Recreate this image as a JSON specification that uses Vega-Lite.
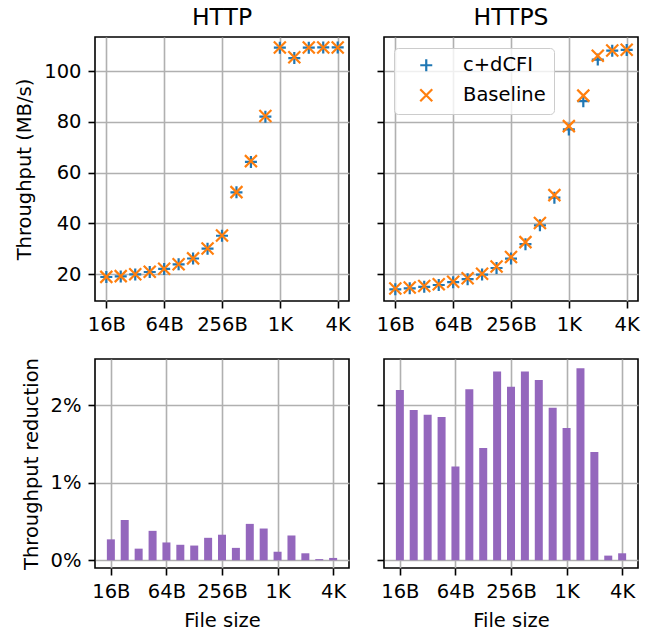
{
  "$schema": "https://vega.github.io/schema/vega-lite/v6.json",
  "padding": {"left": 13, "top": 4, "right": 5, "bottom": 5},
  "background": "white",
  "datasets": {
    "thr": [
      {"proto": "HTTP", "size": 16, "series": "c+dCFI", "v": 18.85},
      {"proto": "HTTP", "size": 22.6, "series": "c+dCFI", "v": 19.1},
      {"proto": "HTTP", "size": 32, "series": "c+dCFI", "v": 19.87},
      {"proto": "HTTP", "size": 45.3, "series": "c+dCFI", "v": 20.82},
      {"proto": "HTTP", "size": 64, "series": "c+dCFI", "v": 22.05},
      {"proto": "HTTP", "size": 90.5, "series": "c+dCFI", "v": 23.85},
      {"proto": "HTTP", "size": 128, "series": "c+dCFI", "v": 26.15},
      {"proto": "HTTP", "size": 181, "series": "c+dCFI", "v": 30.0},
      {"proto": "HTTP", "size": 256, "series": "c+dCFI", "v": 35.1},
      {"proto": "HTTP", "size": 362, "series": "c+dCFI", "v": 52.2},
      {"proto": "HTTP", "size": 512, "series": "c+dCFI", "v": 64.2},
      {"proto": "HTTP", "size": 724, "series": "c+dCFI", "v": 82.0},
      {"proto": "HTTP", "size": 1024, "series": "c+dCFI", "v": 109.2},
      {"proto": "HTTP", "size": 1448, "series": "c+dCFI", "v": 105.1},
      {"proto": "HTTP", "size": 2048, "series": "c+dCFI", "v": 109.2},
      {"proto": "HTTP", "size": 2896, "series": "c+dCFI", "v": 109.3},
      {"proto": "HTTP", "size": 4096, "series": "c+dCFI", "v": 109.3},
      {"proto": "HTTP", "size": 16, "series": "Baseline", "v": 18.9},
      {"proto": "HTTP", "size": 22.6, "series": "Baseline", "v": 19.2},
      {"proto": "HTTP", "size": 32, "series": "Baseline", "v": 19.9},
      {"proto": "HTTP", "size": 45.3, "series": "Baseline", "v": 20.9},
      {"proto": "HTTP", "size": 64, "series": "Baseline", "v": 22.1},
      {"proto": "HTTP", "size": 90.5, "series": "Baseline", "v": 23.9},
      {"proto": "HTTP", "size": 128, "series": "Baseline", "v": 26.2},
      {"proto": "HTTP", "size": 181, "series": "Baseline", "v": 30.1},
      {"proto": "HTTP", "size": 256, "series": "Baseline", "v": 35.2},
      {"proto": "HTTP", "size": 362, "series": "Baseline", "v": 52.3},
      {"proto": "HTTP", "size": 512, "series": "Baseline", "v": 64.5},
      {"proto": "HTTP", "size": 724, "series": "Baseline", "v": 82.3},
      {"proto": "HTTP", "size": 1024, "series": "Baseline", "v": 109.3},
      {"proto": "HTTP", "size": 1448, "series": "Baseline", "v": 105.4},
      {"proto": "HTTP", "size": 2048, "series": "Baseline", "v": 109.3},
      {"proto": "HTTP", "size": 2896, "series": "Baseline", "v": 109.3},
      {"proto": "HTTP", "size": 4096, "series": "Baseline", "v": 109.3},
      {"proto": "HTTPS", "size": 16, "series": "c+dCFI", "v": 14.0},
      {"proto": "HTTPS", "size": 22.6, "series": "c+dCFI", "v": 14.4},
      {"proto": "HTTPS", "size": 32, "series": "c+dCFI", "v": 15.0},
      {"proto": "HTTPS", "size": 45.3, "series": "c+dCFI", "v": 15.7},
      {"proto": "HTTPS", "size": 64, "series": "c+dCFI", "v": 16.8},
      {"proto": "HTTPS", "size": 90.5, "series": "c+dCFI", "v": 18.0},
      {"proto": "HTTPS", "size": 128, "series": "c+dCFI", "v": 19.8},
      {"proto": "HTTPS", "size": 181, "series": "c+dCFI", "v": 22.4},
      {"proto": "HTTPS", "size": 256, "series": "c+dCFI", "v": 26.1},
      {"proto": "HTTPS", "size": 362, "series": "c+dCFI", "v": 31.8},
      {"proto": "HTTPS", "size": 512, "series": "c+dCFI", "v": 39.2},
      {"proto": "HTTPS", "size": 724, "series": "c+dCFI", "v": 50.1},
      {"proto": "HTTPS", "size": 1024, "series": "c+dCFI", "v": 77.0},
      {"proto": "HTTPS", "size": 1448, "series": "c+dCFI", "v": 88.1},
      {"proto": "HTTPS", "size": 2048, "series": "c+dCFI", "v": 104.5},
      {"proto": "HTTPS", "size": 2896, "series": "c+dCFI", "v": 108.0},
      {"proto": "HTTPS", "size": 4096, "series": "c+dCFI", "v": 108.3},
      {"proto": "HTTPS", "size": 16, "series": "Baseline", "v": 14.3},
      {"proto": "HTTPS", "size": 22.6, "series": "Baseline", "v": 14.7},
      {"proto": "HTTPS", "size": 32, "series": "Baseline", "v": 15.3},
      {"proto": "HTTPS", "size": 45.3, "series": "Baseline", "v": 16.0},
      {"proto": "HTTPS", "size": 64, "series": "Baseline", "v": 17.0},
      {"proto": "HTTPS", "size": 90.5, "series": "Baseline", "v": 18.4},
      {"proto": "HTTPS", "size": 128, "series": "Baseline", "v": 20.1},
      {"proto": "HTTPS", "size": 181, "series": "Baseline", "v": 23.0},
      {"proto": "HTTPS", "size": 256, "series": "Baseline", "v": 26.7},
      {"proto": "HTTPS", "size": 362, "series": "Baseline", "v": 32.6},
      {"proto": "HTTPS", "size": 512, "series": "Baseline", "v": 40.1},
      {"proto": "HTTPS", "size": 724, "series": "Baseline", "v": 51.1},
      {"proto": "HTTPS", "size": 1024, "series": "Baseline", "v": 78.3},
      {"proto": "HTTPS", "size": 1448, "series": "Baseline", "v": 90.3},
      {"proto": "HTTPS", "size": 2048, "series": "Baseline", "v": 106.0},
      {"proto": "HTTPS", "size": 2896, "series": "Baseline", "v": 108.1},
      {"proto": "HTTPS", "size": 4096, "series": "Baseline", "v": 108.4}
    ],
    "red": [
      {"proto": "HTTP", "size": 16, "r": 0.27},
      {"proto": "HTTP", "size": 22.6, "r": 0.52},
      {"proto": "HTTP", "size": 32, "r": 0.15},
      {"proto": "HTTP", "size": 45.3, "r": 0.38},
      {"proto": "HTTP", "size": 64, "r": 0.23},
      {"proto": "HTTP", "size": 90.5, "r": 0.2},
      {"proto": "HTTP", "size": 128, "r": 0.19},
      {"proto": "HTTP", "size": 181, "r": 0.29},
      {"proto": "HTTP", "size": 256, "r": 0.33},
      {"proto": "HTTP", "size": 362, "r": 0.16},
      {"proto": "HTTP", "size": 512, "r": 0.47},
      {"proto": "HTTP", "size": 724, "r": 0.41},
      {"proto": "HTTP", "size": 1024, "r": 0.11},
      {"proto": "HTTP", "size": 1448, "r": 0.32},
      {"proto": "HTTP", "size": 2048, "r": 0.09},
      {"proto": "HTTP", "size": 2896, "r": 0.015},
      {"proto": "HTTP", "size": 4096, "r": 0.03},
      {"proto": "HTTPS", "size": 16, "r": 2.2},
      {"proto": "HTTPS", "size": 22.6, "r": 1.94},
      {"proto": "HTTPS", "size": 32, "r": 1.88},
      {"proto": "HTTPS", "size": 45.3, "r": 1.85},
      {"proto": "HTTPS", "size": 64, "r": 1.21},
      {"proto": "HTTPS", "size": 90.5, "r": 2.21},
      {"proto": "HTTPS", "size": 128, "r": 1.45},
      {"proto": "HTTPS", "size": 181, "r": 2.44},
      {"proto": "HTTPS", "size": 256, "r": 2.24},
      {"proto": "HTTPS", "size": 362, "r": 2.44},
      {"proto": "HTTPS", "size": 512, "r": 2.33},
      {"proto": "HTTPS", "size": 724, "r": 1.97},
      {"proto": "HTTPS", "size": 1024, "r": 1.71},
      {"proto": "HTTPS", "size": 1448, "r": 2.48},
      {"proto": "HTTPS", "size": 2048, "r": 1.4},
      {"proto": "HTTPS", "size": 2896, "r": 0.06},
      {"proto": "HTTPS", "size": 4096, "r": 0.09}
    ]
  },
  "columns": 2,
  "spacing": {"row": 58, "column": 35},
  "bounds": "flush",
  "resolve": {
    "scale": {"color": "independent", "shape": "independent", "x": "independent", "y": "independent"},
    "legend": {"color": "independent", "shape": "independent"}
  },
  "concat": [
    {
      "width": 254, "height": 264,
      "title": "HTTP",
      "data": {"name": "thr"},
      "transform": [{"filter": "datum.proto === 'HTTP'"}],
      "mark": {"type": "point", "filled": false, "strokeWidth": 2.2, "size": 144, "opacity": 1},
      "encoding": {
        "x": {"field": "size", "type": "quantitative", "scale": {"type": "log", "base": 2, "domain": [12.2, 5370], "nice": false},
              "axis": {"values": [16, 64, 256, 1024, 4096], "labelExpr": "datum.value >= 1024 ? (datum.value / 1024) + 'K' : datum.value + 'B'", "title": null}},
        "y": {"field": "v", "type": "quantitative", "scale": {"domain": [9.4, 113.4], "nice": false, "zero": false},
              "axis": {"values": [20, 40, 60, 80, 100], "title": "Throughput (MB/s)"}},
        "color": {"field": "series", "type": "nominal", "scale": {"domain": ["c+dCFI", "Baseline"], "range": ["#1f77b4", "#ff7f0e"]}, "legend": null},
        "shape": {"field": "series", "type": "nominal", "scale": {"domain": ["c+dCFI", "Baseline"], "range": ["M-1,0L1,0M0,-1L0,1", "M-1,-1L1,1M-1,1L1,-1"]}, "legend": null}
      }
    },
    {
      "width": 254, "height": 264,
      "title": "HTTPS",
      "data": {"name": "thr"},
      "transform": [{"filter": "datum.proto === 'HTTPS'"}],
      "mark": {"type": "point", "filled": false, "strokeWidth": 2.2, "size": 144, "opacity": 1},
      "encoding": {
        "x": {"field": "size", "type": "quantitative", "scale": {"type": "log", "base": 2, "domain": [12.2, 5370], "nice": false},
              "axis": {"values": [16, 64, 256, 1024, 4096], "labelExpr": "datum.value >= 1024 ? (datum.value / 1024) + 'K' : datum.value + 'B'", "title": null}},
        "y": {"field": "v", "type": "quantitative", "scale": {"domain": [9.4, 113.4], "nice": false, "zero": false},
              "axis": {"values": [20, 40, 60, 80, 100], "title": null, "labels": false}},
        "color": {"field": "series", "type": "nominal", "scale": {"domain": ["c+dCFI", "Baseline"], "range": ["#1f77b4", "#ff7f0e"]},
                  "legend": {"orient": "none", "legendX": 10, "legendY": 11, "title": null}},
        "shape": {"field": "series", "type": "nominal", "scale": {"domain": ["c+dCFI", "Baseline"], "range": ["M-1,0L1,0M0,-1L0,1", "M-1,-1L1,1M-1,1L1,-1"]},
                  "legend": {"orient": "none", "legendX": 10, "legendY": 11, "title": null}}
      }
    },
    {
      "width": 254, "height": 209,
      "data": {"name": "red"},
      "transform": [{"filter": "datum.proto === 'HTTP'"}],
      "mark": {"type": "bar", "size": 8, "color": "#9467bd"},
      "encoding": {
        "x": {"field": "size", "type": "quantitative", "scale": {"type": "log", "base": 2, "domain": [12.2, 5370], "nice": false},
              "axis": {"values": [16, 64, 256, 1024, 4096], "labelExpr": "datum.value >= 1024 ? (datum.value / 1024) + 'K' : datum.value + 'B'", "title": "File size"}},
        "y": {"field": "r", "type": "quantitative", "scale": {"domain": [-0.1, 2.6], "nice": false, "zero": false},
              "axis": {"values": [0, 1, 2], "labelExpr": "datum.value + '%'", "title": "Throughput reduction"}},
        "y2": {"datum": 0}
      }
    },
    {
      "width": 254, "height": 209,
      "data": {"name": "red"},
      "transform": [{"filter": "datum.proto === 'HTTPS'"}],
      "mark": {"type": "bar", "size": 8, "color": "#9467bd"},
      "encoding": {
        "x": {"field": "size", "type": "quantitative", "scale": {"type": "log", "base": 2, "domain": [12.2, 5370], "nice": false},
              "axis": {"values": [16, 64, 256, 1024, 4096], "labelExpr": "datum.value >= 1024 ? (datum.value / 1024) + 'K' : datum.value + 'B'", "title": "File size"}},
        "y": {"field": "r", "type": "quantitative", "scale": {"domain": [-0.1, 2.6], "nice": false, "zero": false},
              "axis": {"values": [0, 1, 2], "title": null, "labels": false}},
        "y2": {"datum": 0}
      }
    }
  ],
  "config": {
    "font": "DejaVu Sans",
    "view": {"stroke": "black", "strokeWidth": 1.6},
    "axis": {
      "domain": false, "grid": true, "gridColor": "#b0b0b0", "gridWidth": 1.6,
      "tickColor": "black", "tickWidth": 1.6, "tickSize": 7,
      "labelFontSize": 19.5, "labelColor": "black", "labelPadding": 7, "labelFlush": false, "labelOverlap": false,
      "titleFontSize": 19.5, "titleFontWeight": "normal", "titleColor": "black", "titlePadding": 9
    },
    "axisX": {"titlePadding": 11},
    "title": {"fontSize": 23.5, "fontWeight": "normal", "color": "black", "offset": 8},
    "legend": {
      "labelFontSize": 19.5, "labelColor": "black", "symbolSize": 144, "symbolStrokeWidth": 2.2,
      "padding": 7.5, "rowPadding": 8, "symbolOffset": 15, "labelOffset": 27,
      "fillColor": "rgba(255,255,255,0.8)", "strokeColor": "#cccccc", "cornerRadius": 4
    }
  }
}
